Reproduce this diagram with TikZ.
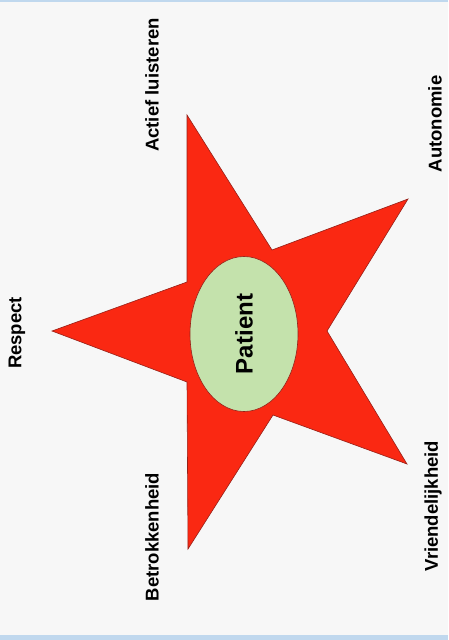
\documentclass[tikz,border=0pt]{standalone}
\usepackage{fontspec}
\setmainfont{Liberation Sans}
\usetikzlibrary{shapes.geometric}
\definecolor{StarRed}{RGB}{250,40,18}
\definecolor{StarEdge}{RGB}{150,32,24}
\definecolor{Mint}{RGB}{196,226,172}
\definecolor{PageBg}{RGB}{247,247,247}
\definecolor{RuleBlue}{RGB}{192,216,238}
\tikzset{
  ster/.style={fill=StarRed,draw=StarEdge,line width=.6pt,line join=miter},
  kern/.style={ellipse,draw=StarEdge,fill=Mint,line width=.6pt,rotate=90,
               minimum width=155pt,minimum height=108pt,inner sep=0pt,
               font=\bfseries\fontsize{24}{24}\selectfont},
  waarde/.style={rotate=90,inner sep=0pt,
                 font=\bfseries\fontsize{18.5}{18.5}\selectfont},
}

\begin{document}
\begin{tikzpicture}[x=1pt,y=-1pt]
  \useasboundingbox (0,0) rectangle (448,640);
  \fill[PageBg] (0,0) rectangle (448,640);
  \fill[RuleBlue] (0,0) rectangle (448,2);
  \fill[RuleBlue] (0,635) rectangle (448,640);

  % punten van de ster
  \coordinate (tL) at (52,331);
  \coordinate (iLT) at (187,282);
  \coordinate (tT) at (187,115);
  \coordinate (iTR) at (272,250);
  \coordinate (tRT) at (408,199);
  \coordinate (iR) at (327,331);
  \coordinate (tRB) at (407,464);
  \coordinate (iRB) at (273,415);
  \coordinate (tB) at (188,549);
  \coordinate (iBL) at (187,382);
  \filldraw[ster] (tL) -- (iLT) -- (tT) -- (iTR) -- (tRT) -- (iR)
    -- (tRB) -- (iRB) -- (tB) -- (iBL) -- cycle;

  \node[kern] (patient) at (244,334) {Patient};

  \node[waarde] (actief) at (152,85) {Actief luisteren};
  \node[waarde] (autonomie) at (435,124) {Autonomie};
  \node[waarde] (respect) at (17,333) {Respect};
  \node[waarde] (betrokken) at (152,537) {Betrokkenheid};
  \node[waarde] (vriendelijk) at (433,506) {Vriendelijkheid};
\end{tikzpicture}
\end{document}
